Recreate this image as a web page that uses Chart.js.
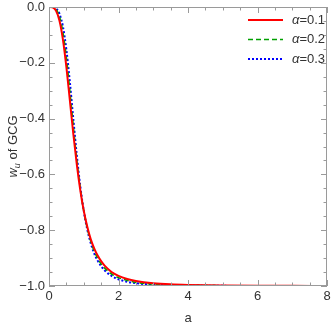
<!DOCTYPE html>
<html>
<head>
<meta charset="utf-8">
<script src="https://cdn.jsdelivr.net/npm/chart.js@4/dist/chart.umd.min.js"></script>
<style>
  html, body { margin: 0; padding: 0; background: #fff; }
  #wrap { width: 332px; height: 326px; }
</style>
</head>
<body>
<div id="wrap"><canvas id="chart" width="332" height="326"></canvas></div>
<script>
// Scale factor a (x values)
const aValues = [0, 0.1, 0.2, 0.3, 0.4, 0.5, 0.6, 0.7, 0.8, 0.9, 1.0, 1.1, 1.2, 1.3, 1.4, 1.5, 1.6, 1.8, 2.0, 2.25, 2.5, 3.0, 3.5, 4.0, 5.0, 6.0, 7.0, 8.0];

// w_u for each alpha
const wAlpha01 = [0, -0.001, -0.013, -0.048, -0.116, -0.215, -0.334, -0.455, -0.564, -0.656, -0.730, -0.787, -0.832, -0.865, -0.891, -0.911, -0.927, -0.950, -0.964, -0.975, -0.982, -0.990, -0.994, -0.996, -0.998, -0.999, -0.9995, -0.9997];
const wAlpha02 = [0, -0.0007, -0.008, -0.034, -0.091, -0.182, -0.301, -0.428, -0.548, -0.649, -0.730, -0.792, -0.839, -0.874, -0.901, -0.921, -0.936, -0.957, -0.970, -0.980, -0.987, -0.993, -0.996, -0.997, -0.999, -0.9995, -0.9997, -0.9998];
const wAlpha03 = [0, -0.0004, -0.005, -0.024, -0.070, -0.153, -0.269, -0.402, -0.531, -0.642, -0.730, -0.797, -0.846, -0.883, -0.909, -0.929, -0.944, -0.964, -0.976, -0.985, -0.990, -0.995, -0.997, -0.998, -0.9995, -0.9998, -0.9999, -1.0];

const seriesLabels = ["0.1", "0.2", "0.3"];
const xTicks = [0, 2, 4, 6, 8];
const yTicks = [0, -0.2, -0.4, -0.6, -0.8, -1.0];

const FONT = "'Liberation Sans', Arial, sans-serif";
const FRAME = "#9a9a9a";
const TEXT = "#333";

function toPoints(ys) {
  return aValues.map((a, i) => ({ x: a, y: ys[i] }));
}

// Frame on all four sides with inward ticks, like the original
const framePlugin = {
  id: "frame",
  afterDraw(chart) {
    const { ctx, chartArea: ca, scales } = chart;
    const xs = scales.x, ys = scales.y;
    ctx.save();
    ctx.strokeStyle = FRAME;
    ctx.lineWidth = 1;
    ctx.strokeRect(ca.left + 0.5, ca.top + 0.5, ca.right - ca.left - 1, ca.bottom - ca.top - 1);

    ctx.beginPath();
    // x ticks, major every 2, minor every 0.5
    for (let k = 0; k <= 16; k++) {
      const v = k * 0.5;
      const px = Math.round(xs.getPixelForValue(v)) + 0.5;
      const len = k % 4 === 0 ? 6 : 3.5;
      ctx.moveTo(px, ca.bottom);
      ctx.lineTo(px, ca.bottom - len);
      ctx.moveTo(px, ca.top);
      ctx.lineTo(px, ca.top + len);
    }
    // y ticks, major every 0.2, minor every 0.05
    for (let k = 0; k <= 20; k++) {
      const v = -k * 0.05;
      const py = Math.round(ys.getPixelForValue(v)) + 0.5;
      const len = k % 4 === 0 ? 6 : 3.5;
      ctx.moveTo(ca.left, py);
      ctx.lineTo(ca.left + len, py);
      ctx.moveTo(ca.right, py);
      ctx.lineTo(ca.right - len, py);
    }
    ctx.stroke();

    // y axis title: w_u of GCG
    ctx.fillStyle = TEXT;
    ctx.translate(13, (ca.top + ca.bottom) / 2);
    ctx.rotate(-Math.PI / 2);
    ctx.textBaseline = "alphabetic";
    ctx.font = "italic 13px " + FONT;
    const wW = ctx.measureText("w").width;
    ctx.font = "italic 9px " + FONT;
    const uW = ctx.measureText("u").width;
    ctx.font = "13px " + FONT;
    const restW = ctx.measureText(" of GCG").width;
    let x0 = -(wW + uW + restW) / 2;
    ctx.font = "italic 13px " + FONT;
    ctx.fillText("w", x0, 4);
    ctx.font = "italic 9px " + FONT;
    ctx.fillText("u", x0 + wW, 7);
    ctx.font = "13px " + FONT;
    ctx.fillText(" of GCG", x0 + wW + uW, 4);
    ctx.restore();

    // legend in the upper right corner
    ctx.save();
    chart.data.datasets.forEach((ds, i) => {
      const y = 20 + i * 19.5;
      ctx.strokeStyle = ds.borderColor;
      ctx.lineWidth = ds.borderWidth;
      ctx.setLineDash(ds.borderDash || []);
      ctx.beginPath();
      ctx.moveTo(248, y);
      ctx.lineTo(283, y);
      ctx.stroke();
      ctx.setLineDash([]);
      ctx.fillStyle = TEXT;
      ctx.textBaseline = "middle";
      ctx.font = "italic 13px " + FONT;
      ctx.fillText("α", 292, y);
      const aw = ctx.measureText("α").width;
      ctx.font = "13px " + FONT;
      ctx.fillText("=" + seriesLabels[i], 292 + aw, y);
    });
    ctx.restore();
  },
};

new Chart(document.getElementById("chart"), {
  type: "line",
  data: {
    datasets: [
      {
        label: "α=" + seriesLabels[0],
        data: toPoints(wAlpha01),
        borderColor: "#ff0000",
        borderWidth: 2,
        borderDash: [],
      },
      {
        label: "α=" + seriesLabels[1],
        data: toPoints(wAlpha02),
        borderColor: "#00a000",
        borderWidth: 1.6,
        borderDash: [5, 3],
      },
      {
        label: "α=" + seriesLabels[2],
        data: toPoints(wAlpha03),
        borderColor: "#0000ff",
        borderWidth: 2,
        borderDash: [2, 2],
      },
    ],
  },
  options: {
    responsive: false,
    animation: false,
    parsing: false,
    layout: { padding: { top: 7, right: 5, left: 0, bottom: 0 } },
    elements: {
      point: { radius: 0 },
      line: { tension: 0.4, cubicInterpolationMode: "monotone", fill: false },
    },
    plugins: {
      legend: { display: false },
      tooltip: { enabled: false },
    },
    scales: {
      x: {
        type: "linear",
        min: 0,
        max: 8,
        afterBuildTicks: (s) => { s.ticks = xTicks.map((v) => ({ value: v })); },
        afterFit: (s) => { s.height = 40; s.paddingLeft = 0; s.paddingRight = 0; },
        grid: { display: false, drawTicks: false },
        border: { display: false },
        ticks: {
          color: TEXT,
          font: { family: FONT, size: 13 },
          padding: 3,
          maxRotation: 0,
          callback: (v) => String(v),
        },
        title: {
          display: true,
          text: "a",
          color: TEXT,
          font: { family: FONT, size: 13 },
          padding: { top: 5, bottom: 0 },
        },
      },
      y: {
        type: "linear",
        min: -1,
        max: 0,
        afterBuildTicks: (s) => { s.ticks = yTicks.map((v) => ({ value: v })); },
        afterFit: (s) => { s.width = 49; s.paddingTop = 0; s.paddingBottom = 0; },
        grid: { display: false, drawTicks: false },
        border: { display: false },
        ticks: {
          color: TEXT,
          font: { family: FONT, size: 13 },
          padding: 4,
          callback: (v) => v.toFixed(1).replace("-", "\u2212"),
        },
      },
    },
  },
  plugins: [framePlugin],
});
</script>
</body>
</html>
